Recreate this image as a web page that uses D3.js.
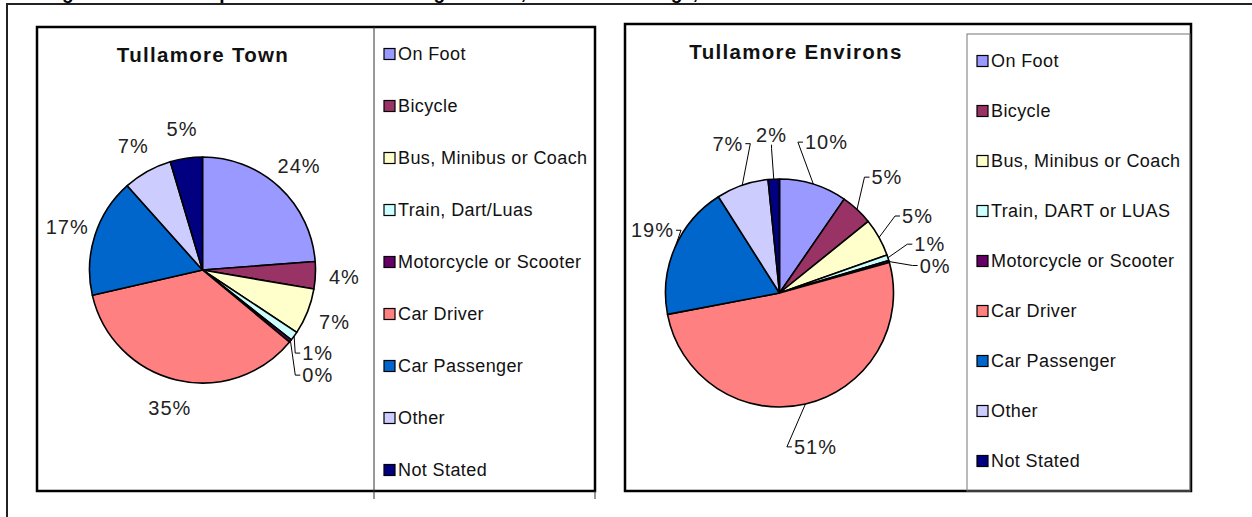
<!DOCTYPE html>
<html>
<head>
<meta charset="utf-8">
<script src="https://cdn.jsdelivr.net/npm/d3@7"></script>
<style>
    body { margin: 0; background: #fff; }
    svg { display: block; font-family: "Liberation Sans", Arial, sans-serif; }
</style>
</head>
<body>
<svg id="chart" width="1252" height="517"></svg>
<script>
// Data (percent of persons)
const pageTitle = "Figure 4.6: Modal Split of Persons Travelling to Work, School or College, Tullamore Town and Environs";
const modeColors = ["#9999FF", "#993366", "#FFFFCC", "#CCFFFF", "#660066", "#FF8080", "#0066CC", "#CCCCFF", "#000080"];

const townTitle = "Tullamore Town";
const townCategories = ["On Foot", "Bicycle", "Bus, Minibus or Coach", "Train, Dart/Luas", "Motorcycle or Scooter",
    "Car Driver", "Car Passenger", "Other", "Not Stated"];
const townValues = [23.8, 3.9, 6.6, 1.3, 0.4, 35.4, 17.0, 7.0, 4.6];

const environsTitle = "Tullamore Environs";
const environsCategories = ["On Foot", "Bicycle", "Bus, Minibus or Coach", "Train, DART or LUAS", "Motorcycle or Scooter",
    "Car Driver", "Car Passenger", "Other", "Not Stated"];
const environsValues = [9.6, 4.6, 5.4, 0.8, 0.3, 51.3, 19.0, 7.4, 1.6];

const svg = d3.select("#chart");

// page heading (cut off by the page edge in the source) and outer frame
svg.append("text")
    .attr("x", 45)
    .attr("y", -1.5)
    .attr("font-weight", "bold")
    .attr("font-size", 19)
    .text(pageTitle);
svg.append("path")
    .attr("d", "M7,517V4H1252")
    .attr("fill", "none")
    .attr("stroke", "#222")
    .attr("stroke-width", 2);

/**
 * Draw one pie panel with its legend
 * @param {Object} cfg - data plus layout for the panel
 */
function drawPanel(cfg) {
    const g = svg.append("g");

    // chart area border
    g.append("rect")
        .attr("x", cfg.box[0])
        .attr("y", cfg.box[1])
        .attr("width", cfg.box[2] - cfg.box[0])
        .attr("height", cfg.box[3] - cfg.box[1])
        .attr("fill", "#fff")
        .attr("stroke", "#000")
        .attr("stroke-width", 2.5);

    // legend frame
    if (cfg.legendBox) {
        g.append("rect")
            .attr("x", cfg.legendX)
            .attr("y", cfg.legendTop)
            .attr("width", cfg.box[2] - 1 - cfg.legendX)
            .attr("height", cfg.box[3] - cfg.legendTop)
            .attr("fill", "none")
            .attr("stroke", "#777")
            .attr("stroke-width", 1);
    } else {
        g.append("line")
            .attr("x1", cfg.legendX).attr("x2", cfg.legendX)
            .attr("y1", cfg.box[1]).attr("y2", cfg.box[3] + 8)
            .attr("stroke", "#333").attr("stroke-width", 1);
        g.append("line")
            .attr("x1", cfg.box[2]).attr("x2", cfg.box[2])
            .attr("y1", cfg.box[3]).attr("y2", cfg.box[3] + 8)
            .attr("stroke", "#333").attr("stroke-width", 1);
    }

    const slices = cfg.categories.map((c, i) => ({ name: c, value: cfg.values[i], color: modeColors[i] }));

    // legend entries
    const ly = d3.scalePoint().domain(cfg.categories).range(cfg.legendRange);
    const leg = g.append("g");
    slices.forEach(s => {
        leg.append("rect")
            .attr("x", cfg.legendX + 10)
            .attr("y", ly(s.name) - 5.5)
            .attr("width", 11)
            .attr("height", 11)
            .attr("fill", s.color)
            .attr("stroke", "#000")
            .attr("stroke-width", 1.2);
        leg.append("text")
            .attr("x", cfg.legendX + 24)
            .attr("y", ly(s.name))
            .attr("dy", "0.35em")
            .attr("font-size", 18)
            .attr("letter-spacing", 0.4)
            .attr("fill", "#111")
            .text(s.name);
    });

    // title
    g.append("text")
        .attr("x", cfg.titleX)
        .attr("y", cfg.titleY)
        .attr("text-anchor", "middle")
        .attr("font-weight", "bold")
        .attr("font-size", 20.5)
        .attr("letter-spacing", 1.3)
        .attr("fill", "#111")
        .text(cfg.title);

    // pie, starting at 12 o'clock, clockwise, data order
    const arcs = d3.pie().sort(null).value(d => d.value)(slices);
    const arc = d3.arc().innerRadius(0).outerRadius(cfg.r);
    const pg = g.append("g").attr("transform", `translate(${cfg.cx},${cfg.cy})`);
    pg.selectAll("path.slice")
        .data(arcs)
        .join("path")
        .attr("class", "slice")
        .attr("d", arc)
        .attr("fill", d => d.data.color)
        .attr("stroke", "#000")
        .attr("stroke-width", 1.6)
        .attr("stroke-linejoin", "round");

    // percentage labels with simple collision avoidance
    const total = d3.sum(cfg.values);
    const fmt = d3.format(".0%");
    const placed = [];
    const lg = pg.append("g");
    const h = 19;
    arcs.forEach(a => {
        const t = lg.append("text")
            .attr("text-anchor", "middle")
            .attr("dy", "0.35em")
            .attr("font-size", 20)
            .attr("letter-spacing", 1)
            .attr("fill", "#222")
            .text(fmt(a.data.value / total));
        const w = t.node().getComputedTextLength();
        const mid = (a.startAngle + a.endAngle) / 2;
        let rad = cfg.r + cfg.labelGap;
        let ang = mid;
        const pos = () => {
            let x = Math.sin(ang) * rad;
            const y = -Math.cos(ang) * rad;
            x = Math.max(cfg.minX + w / 2, Math.min(cfg.maxX - w / 2, x));
            return [x, y];
        };
        let [x, y] = pos();
        let guard = 0;
        while (placed.some(p => Math.abs(p.x - x) < (p.w + w) / 2 + 2 && Math.abs(p.y - y) < h + 2) && guard++ < 90) {
            ang += Math.PI / 360;
            rad += cfg.pushOut;
            [x, y] = pos();
        }
        placed.push({ x, y, w });
        t.attr("x", x).attr("y", y);

        const small = (a.endAngle - a.startAngle) < 2 * Math.PI * 0.02;
        if (cfg.leaderAll || small || ang !== mid) {
            const px = Math.sin(mid) * cfg.r;
            const py = -Math.cos(mid) * cfg.r;
            const side = x >= 0 ? 1 : -1;
            let pts;
            if (Math.abs(x) > w / 2 + 4) {
                const ex = x - side * (w / 2 + 2);
                pts = [[px, py], [ex - side * 5, y], [ex, y]];
            } else {
                const ey = y + (y < 0 ? h / 2 : -h / 2);
                pts = [[px, py], [x, ey - (y < 0 ? -4 : 4)], [x, ey]];
            }
            lg.append("path")
                .attr("d", d3.line()(pts))
                .attr("fill", "none")
                .attr("stroke", "#000")
                .attr("stroke-width", 1);
        }
    });
}

drawPanel({
    title: townTitle, categories: townCategories, values: townValues,
    box: [37, 27, 595, 491], legendX: 374, legendBox: false, legendRange: [54, 470],
    titleX: 203, titleY: 62,
    cx: 202.5, cy: 270, r: 113, labelGap: 29, leaderAll: false, pushOut: 2,
    minX: 37 + 6 - 202.5, maxX: 374 - 6 - 202.5
});

drawPanel({
    title: environsTitle, categories: environsCategories, values: environsValues,
    box: [625, 24, 1191, 491], legendX: 967, legendTop: 34, legendBox: true, legendRange: [61, 461],
    titleX: 796, titleY: 59,
    cx: 779.5, cy: 293, r: 114, labelGap: 44, leaderAll: true, pushOut: 0,
    minX: 625 + 6 - 779.5, maxX: 967 - 6 - 779.5
});
</script>
</body>
</html>
